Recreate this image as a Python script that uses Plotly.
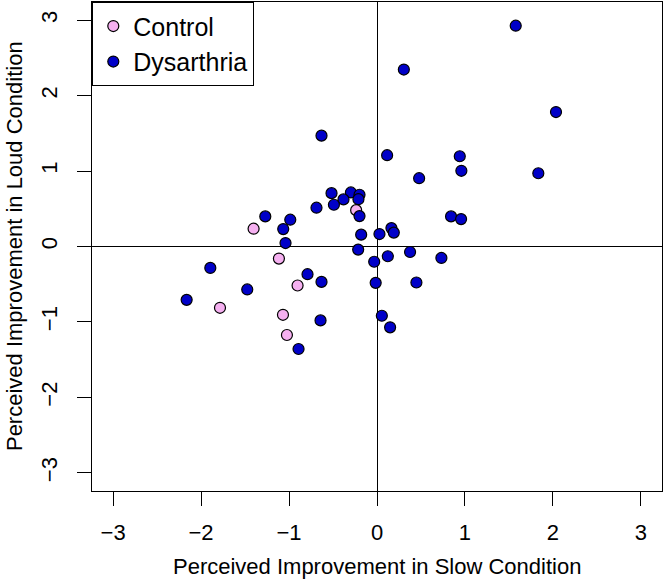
import plotly.graph_objects as go

# Control group
control_slow = [-0.237, -1.403, -1.115, -0.903, -1.785, -1.069, -1.024]
control_loud = [0.482, 0.236, -0.160, -0.517, -0.812, -0.905, -1.173]

# Dysarthria group
dys_slow = [-0.517, -0.297, -0.199, -0.381, -0.211, -0.490, -0.688, -0.199, -1.270, -0.986,
            -1.066, -0.180, 0.028, -1.040, -0.214, -0.032, -1.895, -0.790, -0.631, -0.015,
            -1.475, -2.164, -0.642, -0.892, 0.055, 0.149, 0.115, 0.941, 0.959, 0.479,
            0.842, 0.956, 0.164, 0.191, 0.376, 0.123, 0.732, 0.448, 1.577, 2.035,
            1.834, 0.305, -0.631]
dys_loud = [0.707, 0.716, 0.686, 0.624, 0.627, 0.553, 0.514, 0.403, 0.399, 0.355,
            0.231, 0.157, 0.165, 0.046, -0.041, -0.202, -0.284, -0.367, -0.469, -0.482,
            -0.569, -0.707, -0.979, -1.358, -0.918, -1.071, 1.21, 1.196, 1.003, 0.905,
            0.399, 0.363, 0.244, 0.184, -0.073, -0.129, -0.152, -0.477, 2.926, 1.782,
            0.971, 2.345, 1.469]

tick_vals = [-3, -2, -1, 0, 1, 2, 3]
tick_text = ["\u22123", "\u22122", "\u22121", "0", "1", "2", "3"]

x_title = "Perceived Improvement in Slow Condition"
y_title = "Perceived Improvement in Loud Condition"

FONT = "Liberation Sans, Arial, sans-serif"

fig = go.Figure()
fig.add_trace(go.Scatter(
    x=control_slow, y=control_loud, mode="markers", name="Control",
    marker=dict(size=11, color="#F5B0F0", line=dict(color="black", width=1.2)),
))
fig.add_trace(go.Scatter(
    x=dys_slow, y=dys_loud, mode="markers", name="Dysarthria",
    marker=dict(size=11, color="#0000C8", line=dict(color="black", width=1.2)),
))

axis_common = dict(
    tickvals=tick_vals, ticktext=tick_text,
    ticks="outside", ticklen=14, tickwidth=1.3, tickcolor="black",
    showline=True, linecolor="black", linewidth=1.3, mirror=True,
    showgrid=False, zeroline=True, zerolinecolor="black", zerolinewidth=1.3,
    tickfont=dict(family=FONT, size=22, color="black"),
    range=[-3.24, 3.24], automargin=False,
)

fig.update_layout(
    width=664, height=583,
    margin=dict(l=92, r=2, t=2, b=92),
    plot_bgcolor="white", paper_bgcolor="white",
    showlegend=True,
    legend=dict(
        x=0, y=1, xanchor="left", yanchor="top",
        bordercolor="black", borderwidth=1.3, bgcolor="white",
        font=dict(family=FONT, size=25, color="black"),
        itemwidth=30, tracegroupgap=0,
    ),
    xaxis=dict(**axis_common, ticklabelstandoff=7),
    yaxis=dict(**axis_common, tickangle=-90, ticklabelstandoff=11),
    annotations=[
        dict(text=x_title, xref="paper", yref="paper", x=0.5, y=-0.1554,
             xanchor="center", yanchor="middle", showarrow=False,
             font=dict(family=FONT, size=22, color="black")),
        dict(text=y_title, xref="paper", yref="paper", x=-0.1368, y=0.501,
             xanchor="center", yanchor="middle", showarrow=False, textangle=-90,
             font=dict(family=FONT, size=22, color="black")),
    ],
)

fig.write_html("out.html",
               config={"displayModeBar": False},
               post_script="document.body.style.margin='0';document.body.style.padding='0';")
